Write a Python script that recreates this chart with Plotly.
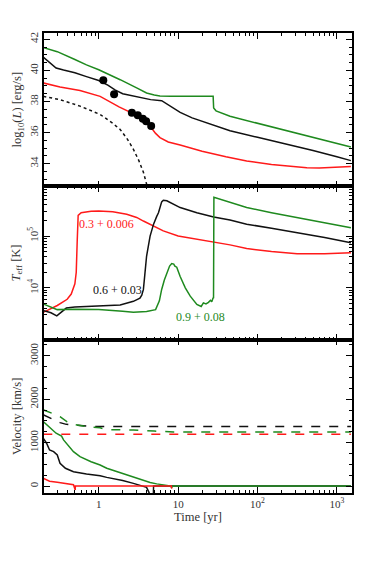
import numpy as np
import plotly.graph_objects as go
from plotly.subplots import make_subplots

# ---- luminosity panel (log10 L in erg/s) ----
t_L_green = [0.2, 0.3, 0.5, 0.7, 1.0, 1.5, 1.86, 3.0, 4.0, 5.0, 5.9, 8.0, 12.9, 20, 27.6, 28.0, 30, 45, 100, 200, 500, 1000, 1500]
L_green = [41.46, 41.2, 40.7, 40.35, 40.04, 39.65, 39.4, 38.87, 38.55, 38.42, 38.36, 38.33, 38.32, 38.32, 38.33, 37.58, 37.4, 37.05, 36.6, 36.2, 35.68, 35.3, 35.07]

t_L_black = [0.2, 0.25, 0.29, 0.36, 0.5, 0.7, 1.0, 1.3, 1.6, 2.0, 3.0, 4.5, 6.2, 8, 10.6, 15, 20.8, 45, 100, 200, 500, 1000, 1500]
L_black = [40.85, 40.45, 40.15, 40.02, 39.85, 39.6, 39.35, 39.05, 38.75, 38.5, 38.3, 38.12, 38.05, 37.7, 37.3, 36.95, 36.7, 36.12, 35.7, 35.35, 34.85, 34.45, 34.2]

t_L_red = [0.2, 0.325, 0.58, 1.04, 1.8, 2.73, 3.5, 4.03, 4.6, 5.2, 5.9, 7.5, 10.6, 20, 40, 73, 150, 300, 418, 600, 1000, 1500]
L_red = [39.19, 38.93, 38.7, 38.33, 37.65, 37.2, 36.95, 36.7, 36.3, 35.95, 35.68, 35.4, 35.2, 34.8, 34.45, 34.18, 33.95, 33.8, 33.75, 33.72, 33.75, 33.82]

t_L_dot = [0.2, 0.325, 0.58, 1.04, 1.5, 1.86, 2.3, 2.73, 3.2, 3.65, 4.1]
L_dot = [38.33, 38.12, 37.7, 37.17, 36.6, 36.2, 35.57, 34.93, 34.2, 33.45, 32.5]

t_obs = [1.14, 1.56, 2.61, 3.1, 3.59, 3.95, 4.57]
L_obs = [39.36, 38.46, 37.27, 37.12, 36.89, 36.73, 36.42]

# ---- effective temperature panel (log10 Teff in K) ----
t_T_red = [0.2, 0.3, 0.4, 0.45, 0.5, 0.52, 0.535, 0.55, 0.6, 0.8, 1.0, 1.5, 2.25, 3.0, 3.65, 4.9, 6.5, 10, 17, 28, 45, 73, 150, 315, 700, 1500]
logT_red = [3.527, 3.66, 3.78, 3.88, 4.08, 4.3, 4.9, 5.40, 5.45, 5.48, 5.485, 5.47, 5.42, 5.36, 5.29, 5.20, 5.10, 5.0, 4.94, 4.87, 4.83, 4.76, 4.70, 4.66, 4.66, 4.68]

t_T_black = [0.2, 0.25, 0.296, 0.33, 0.39, 0.5, 0.7, 1.0, 1.86, 2.73, 3.3, 3.48, 3.65, 3.8, 4.0, 4.43, 4.9, 5.37, 5.65, 6.2, 6.5, 7.2, 10.6, 17.2, 28, 45, 73, 150, 315, 700, 1500]
logT_black = [3.56, 3.52, 3.46, 3.52, 3.61, 3.63, 3.64, 3.66, 3.67, 3.74, 3.80, 3.86, 3.97, 4.25, 4.61, 5.0, 5.23, 5.38, 5.45, 5.66, 5.69, 5.68, 5.55, 5.45, 5.37, 5.31, 5.23, 5.15, 5.07, 4.97, 4.87]

t_T_green = [0.2, 0.3, 0.5, 1.0, 2.0, 2.73, 4.0, 5.2, 5.8, 6.2, 6.7, 7.2, 7.8, 8.3, 8.8, 9.1, 9.6, 10.6, 12.3, 14.2, 17.2, 19.5, 20.8, 22.4, 24.1, 25.5, 26.5, 27.6, 27.9, 28.2, 45, 73, 150, 315, 700, 1500]
logT_green = [3.69, 3.58, 3.585, 3.58, 3.55, 3.53, 3.545, 3.58, 3.75, 3.97, 4.15, 4.29, 4.42, 4.47, 4.46, 4.42, 4.40, 4.22, 4.0, 3.84, 3.68, 3.64, 3.71, 3.69, 3.72, 3.76, 3.73, 3.81, 3.80, 5.75, 5.65, 5.55, 5.45, 5.36, 5.26, 5.16]

# ---- velocity panel (km/s) ----
t_vd_red = [0.2, 1500]
vd_red = [1190, 1190]
t_vd_black = [0.2, 0.25, 0.325, 0.39, 0.48, 0.7, 1.0, 1500]
vd_black = [1640, 1560, 1460, 1420, 1400, 1380, 1370, 1370]
t_vd_green = [0.2, 0.25, 0.325, 0.4, 0.48, 0.7, 1.04, 1.26, 2.73, 5, 8.7, 1500]
vd_green = [1755, 1690, 1600, 1480, 1420, 1370, 1340, 1300, 1290, 1265, 1245, 1245]

t_v_green = [0.2, 0.25, 0.29, 0.34, 0.36, 0.48, 0.58, 0.8, 1.04, 1.26, 2.25, 2.73, 4.43, 5.37, 7.9, 8.3, 8.5, 8.8, 1500]
v_green = [1485, 1330, 1216, 1150, 1062, 792, 677, 560, 485, 409, 250, 200, 80, 50, 5, -30, -5, 0, 0]
t_v_black = [0.2, 0.22, 0.24, 0.27, 0.3, 0.325, 0.38, 0.48, 0.7, 1.04, 1.26, 2.0, 2.73, 3.3, 4.0, 4.3, 4.5, 4.85, 4.9, 1500]
v_black = [1101, 986, 831, 792, 716, 524, 409, 330, 280, 238, 200, 130, 62, 23, -30, -150, -400, -400, 0, 0]
t_v_red = [0.2, 0.24, 0.3, 0.39, 0.48, 0.505, 0.507, 8.2, 8.3]
v_red = [177, 110, 90, 62, 30, -90, 0, 0, -60]

x_tickvals = [1, 10, 100, 1000]
x_ticktext = ["1", "10", "10<sup>2</sup>", "10<sup>3</sup>"]
x_minor = [m * 10.0 ** e for e in range(-1, 4) for m in range(2, 10)]
T_tickvals = [1e4, 1e5]
T_ticktext = ["10<sup>4</sup>", "10<sup>5</sup>"]
T_minor = [m * 10.0 ** e for e in range(3, 6) for m in range(2, 10)]

GREEN = "#1f8a1f"
RED = "#ff1a1a"
BLACK = "#111111"
LW = 1.5
SERIF = "Liberation Serif"

fig = make_subplots(rows=3, cols=1, shared_xaxes=True, vertical_spacing=0)

# panel 1
fig.add_trace(go.Scatter(x=t_L_dot, y=L_dot, mode="lines", line=dict(color=BLACK, width=1.5, dash="dot")), 1, 1)
fig.add_trace(go.Scatter(x=t_L_red, y=L_red, mode="lines", line=dict(color=RED, width=LW)), 1, 1)
fig.add_trace(go.Scatter(x=t_L_black, y=L_black, mode="lines", line=dict(color=BLACK, width=LW)), 1, 1)
fig.add_trace(go.Scatter(x=t_L_green, y=L_green, mode="lines", line=dict(color=GREEN, width=LW)), 1, 1)
fig.add_trace(go.Scatter(x=t_obs, y=L_obs, mode="markers", marker=dict(color="black", size=8)), 1, 1)

# panel 2
fig.add_trace(go.Scatter(x=t_T_red, y=10 ** np.array(logT_red), mode="lines", line=dict(color=RED, width=LW)), 2, 1)
fig.add_trace(go.Scatter(x=t_T_black, y=10 ** np.array(logT_black), mode="lines", line=dict(color=BLACK, width=LW)), 2, 1)
fig.add_trace(go.Scatter(x=t_T_green, y=10 ** np.array(logT_green), mode="lines", line=dict(color=GREEN, width=LW)), 2, 1)

# panel 3
fig.add_trace(go.Scatter(x=t_vd_black, y=vd_black, mode="lines", line=dict(color=BLACK, width=LW, dash="dash")), 3, 1)
fig.add_trace(go.Scatter(x=t_vd_green, y=vd_green, mode="lines", line=dict(color=GREEN, width=LW, dash="dash")), 3, 1)
fig.add_trace(go.Scatter(x=t_vd_red, y=vd_red, mode="lines", line=dict(color=RED, width=LW, dash="dash")), 3, 1)
fig.add_trace(go.Scatter(x=t_v_black, y=v_black, mode="lines", line=dict(color=BLACK, width=LW)), 3, 1)
fig.add_trace(go.Scatter(x=t_v_green, y=v_green, mode="lines", line=dict(color=GREEN, width=LW)), 3, 1)
fig.add_trace(go.Scatter(x=t_v_red, y=v_red, mode="lines", line=dict(color=RED, width=LW)), 3, 1)

axis_common = dict(showline=True, linecolor="black", linewidth=1.5, mirror="allticks",
                   ticks="inside", ticklen=6, tickwidth=1.2, tickcolor="black",
                   showgrid=False, zeroline=False, automargin=False,
                   tickfont=dict(family=SERIF, size=11, color="#333"))
title_font = dict(family=SERIF, size=12.5, color="#333")

for r in (1, 2, 3):
    fig.update_xaxes(type="log", range=[-0.69, 3.19], tickvals=x_tickvals, ticktext=x_ticktext,
                     minor=dict(ticks="inside", ticklen=3, tickwidth=1, tickcolor="black", tickvals=x_minor),
                     row=r, col=1, **axis_common)
fig.update_xaxes(title=dict(text="Time [yr]", standoff=3, font=title_font), row=3, col=1)

fig.update_yaxes(range=[32.55, 42.4], dtick=2, tick0=0, tickangle=-90,
                 minor=dict(ticks="inside", ticklen=3, tickwidth=1, tickcolor="black", dtick=0.5),
                 title=dict(text="log<sub>10</sub>(<i>L</i>) [erg/s]", standoff=3, font=title_font),
                 row=1, col=1, **axis_common)
fig.update_yaxes(type="log", range=[3.0, 5.96], tickvals=T_tickvals, ticktext=T_ticktext, tickangle=-90,
                 minor=dict(ticks="inside", ticklen=3, tickwidth=1, tickcolor="black", tickvals=T_minor),
                 title=dict(text="<i>T</i><sub>eff</sub> [K]", standoff=3, font=title_font),
                 row=2, col=1, **axis_common)
fig.update_yaxes(range=[-160, 3370], dtick=1000, tick0=0, tickangle=-90,
                 minor=dict(ticks="inside", ticklen=3, tickwidth=1, tickcolor="black", dtick=250),
                 title=dict(text="Velocity [km/s]", standoff=3, font=title_font),
                 row=3, col=1, **axis_common)

fig.add_annotation(x=0.092, y=5.227, xref="x2", yref="y2", text="0.3 + 0.006", showarrow=False,
                   font=dict(color=RED, size=12, family=SERIF))
fig.add_annotation(x=0.231, y=3.967, xref="x2", yref="y2", text="0.6 + 0.03", showarrow=False,
                   font=dict(color=BLACK, size=12, family=SERIF))
fig.add_annotation(x=1.28, y=3.44, xref="x2", yref="y2", text="0.9 + 0.08", showarrow=False,
                   font=dict(color=GREEN, size=12, family=SERIF))

# the page body adds an 8px margin, so the figure is drawn 8px smaller and offset
fig.update_layout(width=366, height=553, margin=dict(l=36, r=22, t=25, b=68),
                  showlegend=False, plot_bgcolor="white", paper_bgcolor="white",
                  font=dict(family=SERIF, size=12, color="#333"))

fig.write_html("out.html")
